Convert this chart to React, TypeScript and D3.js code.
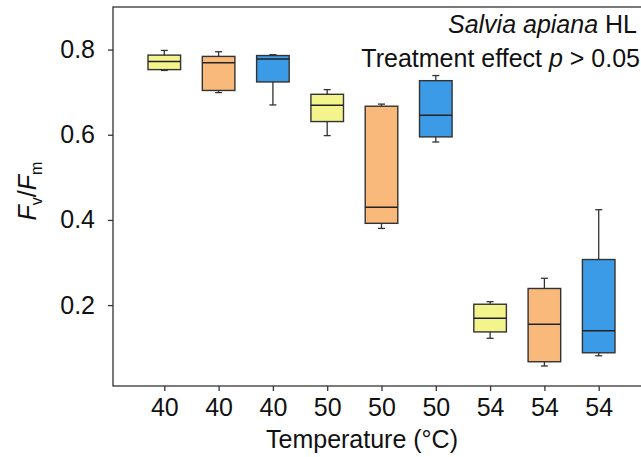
import { useEffect, useRef } from "react";
import * as d3 from "d3";

// temperature group of each box (x tick labels)
const temps = ["40", "40", "40", "50", "50", "50", "54", "54", "54"];
// treatment of each box -> fill colour index
const treatments = [0, 1, 2, 0, 1, 2, 0, 1, 2];
const treatmentColors = ["#f3f58c", "#f8b97b", "#3b9be6"];

// box statistics (Fv/Fm)
const whiskerLow = [0.751, 0.699, 0.67, 0.598, 0.38, 0.583, 0.122, 0.057, 0.081];
const q1 = [0.753, 0.704, 0.724, 0.631, 0.392, 0.595, 0.137, 0.067, 0.088];
const median = [0.772, 0.769, 0.778, 0.669, 0.43, 0.646, 0.169, 0.155, 0.14];
const q3 = [0.787, 0.784, 0.786, 0.695, 0.667, 0.727, 0.202, 0.239, 0.307];
const whiskerHigh = [0.798, 0.795, 0.788, 0.706, 0.672, 0.739, 0.208, 0.263, 0.424];

const yTicks = [0.2, 0.4, 0.6, 0.8];

const WIDTH = 641;
const HEIGHT = 457;
const FONT = "'Liberation Sans', Arial, sans-serif";
const FS = 25;

export default function App() {
  const svgRef = useRef<SVGSVGElement>(null);

  useEffect(() => {
    const svg = d3.select(svgRef.current);
    svg.selectAll("*").remove();

    const margin = { top: 7, left: 113, bottom: 386 };
    const ink = "#333";

    const y = d3.scaleLinear().domain([0.01, 0.9]).range([margin.bottom, margin.top]);
    const x = d3
      .scalePoint<number>()
      .domain(temps.map((_, i) => i))
      .range([164.3, 598.7]);
    const boxW = x.step() * 0.6;
    const capW = 7;

    // frame (right edge falls outside the picture)
    svg
      .append("rect")
      .attr("x", margin.left)
      .attr("y", margin.top)
      .attr("width", WIDTH - margin.left + 10)
      .attr("height", margin.bottom - margin.top)
      .attr("fill", "none")
      .attr("stroke", ink)
      .attr("stroke-width", 1.3);

    // boxes
    const g = svg
      .append("g")
      .selectAll("g")
      .data(temps.map((_, i) => i))
      .enter()
      .append("g");

    g.append("line")
      .attr("x1", (i) => x(i)!)
      .attr("x2", (i) => x(i)!)
      .attr("y1", (i) => y(whiskerHigh[i]))
      .attr("y2", (i) => y(whiskerLow[i]))
      .attr("stroke", ink)
      .attr("stroke-width", 1.3);

    [whiskerHigh, whiskerLow].forEach((arr) => {
      g.append("line")
        .attr("x1", (i) => x(i)! - capW / 2)
        .attr("x2", (i) => x(i)! + capW / 2)
        .attr("y1", (i) => y(arr[i]))
        .attr("y2", (i) => y(arr[i]))
        .attr("stroke", ink)
        .attr("stroke-width", 1.3);
    });

    g.append("rect")
      .attr("x", (i) => x(i)! - boxW / 2)
      .attr("y", (i) => y(q3[i]))
      .attr("width", boxW)
      .attr("height", (i) => y(q1[i]) - y(q3[i]))
      .attr("fill", (i) => treatmentColors[treatments[i]])
      .attr("stroke", ink)
      .attr("stroke-width", 1.4);

    g.append("line")
      .attr("x1", (i) => x(i)! - boxW / 2)
      .attr("x2", (i) => x(i)! + boxW / 2)
      .attr("y1", (i) => y(median[i]))
      .attr("y2", (i) => y(median[i]))
      .attr("stroke", "#222")
      .attr("stroke-width", 1.5);

    // axes
    const yAxis = svg
      .append("g")
      .attr("transform", `translate(${margin.left},0)`)
      .call(
        d3
          .axisLeft(y)
          .tickValues(yTicks)
          .tickFormat(d3.format(".1f"))
          .tickSize(5)
          .tickSizeOuter(0)
          .tickPadding(13)
      );
    const xAxis = svg
      .append("g")
      .attr("transform", `translate(0,${margin.bottom})`)
      .call(
        d3
          .axisBottom(x)
          .tickFormat((i) => temps[i as number])
          .tickSize(5)
          .tickSizeOuter(0)
          .tickPadding(7)
      );
    [yAxis, xAxis].forEach((a) => {
      a.select(".domain").remove();
      a.selectAll("line").attr("stroke", ink).attr("stroke-width", 1.3);
      a.selectAll("text")
        .attr("fill", "#111")
        .attr("font-family", FONT)
        .attr("font-size", FS);
    });

    // axis titles
    svg
      .append("text")
      .attr("x", 362)
      .attr("y", 448)
      .attr("text-anchor", "middle")
      .attr("font-family", FONT)
      .attr("font-size", FS)
      .attr("fill", "#111")
      .text("Temperature (°C)");

    const yt = svg
      .append("text")
      .attr("transform", "translate(36,191) rotate(-90)")
      .attr("text-anchor", "middle")
      .attr("font-family", FONT)
      .attr("font-size", FS)
      .attr("fill", "#111");
    yt.append("tspan").attr("font-style", "italic").text("F");
    yt.append("tspan").attr("font-size", 16).attr("dy", 6).text("v");
    yt.append("tspan").attr("dy", -6).text("/");
    yt.append("tspan").attr("font-style", "italic").text("F");
    yt.append("tspan").attr("font-size", 16).attr("dy", 6).text("m");

    // annotations
    const t1 = svg
      .append("text")
      .attr("x", 637)
      .attr("y", 33)
      .attr("text-anchor", "end")
      .attr("font-family", FONT)
      .attr("font-size", FS)
      .attr("fill", "#111");
    t1.append("tspan").attr("font-style", "italic").text("Salvia apiana");
    t1.append("tspan").text(" HL");

    const t2 = svg
      .append("text")
      .attr("x", 640)
      .attr("y", 67)
      .attr("text-anchor", "end")
      .attr("font-family", FONT)
      .attr("font-size", FS)
      .attr("fill", "#111");
    t2.append("tspan").text("Treatment effect ");
    t2.append("tspan").attr("font-style", "italic").text("p");
    t2.append("tspan").text(" > 0.05");
  }, []);

  return (
    <svg
      ref={svgRef}
      width={WIDTH}
      height={HEIGHT}
      style={{ position: "absolute", left: 0, top: 0, background: "#fff" }}
    />
  );
}
